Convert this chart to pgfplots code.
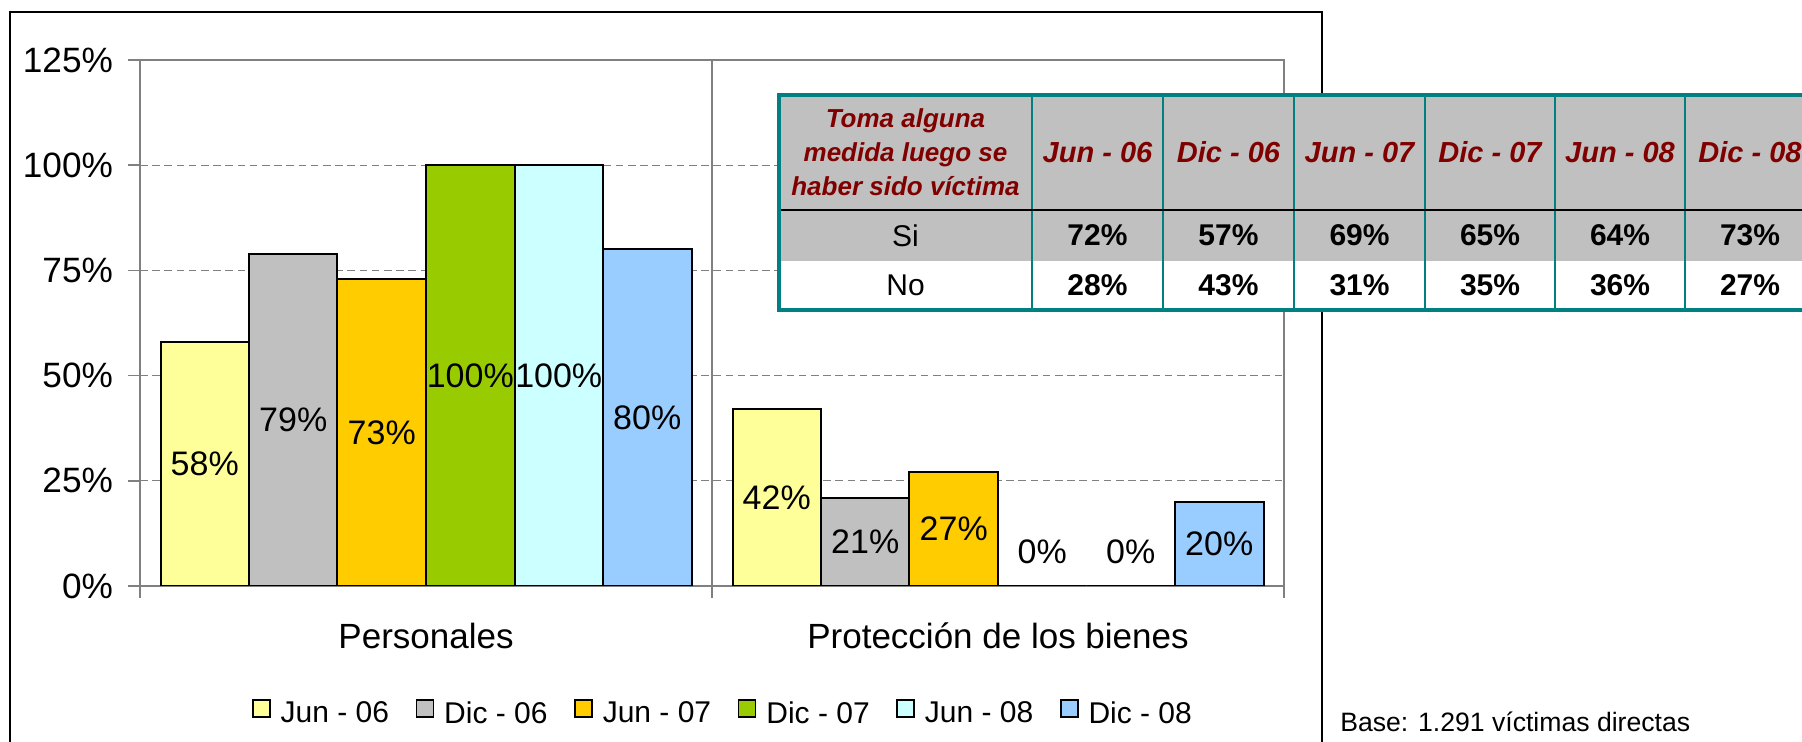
\documentclass[border=0pt]{standalone}
\usepackage{pgfplots}
\pgfplotsset{compat=1.18}
\usepackage{fontspec}
\setmainfont{Liberation Sans}
\definecolor{cA}{HTML}{FFFF99}
\definecolor{cB}{HTML}{C0C0C0}
\definecolor{cC}{HTML}{FFCC00}
\definecolor{cD}{HTML}{99CC00}
\definecolor{cE}{HTML}{CCFFFF}
\definecolor{cF}{HTML}{99CCFF}
\definecolor{tealb}{HTML}{008080}
\definecolor{dred}{HTML}{800000}
\definecolor{tgray}{HTML}{C0C0C0}
\definecolor{gridc}{HTML}{808080}
\pgfplotsset{
  mybar/.style={ybar, bar width=0.1547, draw=black, line width=1pt,
    legend image code/.code={\draw[##1, line width=0.8pt] (0pt,-1.5pt) rectangle (8.5pt,7pt);}}
}
\begin{document}
\begin{tikzpicture}[x=1pt,y=1pt]
\useasboundingbox (0,0) rectangle (901,371);
\fill[white] (0,0) rectangle (901,371);
\draw[black, line width=0.8pt] (5,-10) rectangle (661,365);
\begin{axis}[
  at={(70pt,78pt)}, anchor=south west,
  scale only axis, width=572pt, height=263pt,
  xmin=-0.5, xmax=1.5, ymin=0, ymax=125,
  /pgf/number format/assume math mode=true,
  axis line style={draw=gridc, line width=0.8pt},
  tick align=outside, major tick length=6pt,
  xtick pos=bottom, ytick pos=left,
  tick style={draw=gridc, line width=0.8pt},
  xtick={-0.5,0.5,1.5}, xticklabels={},
  extra x ticks={0,1},
  extra x tick labels={Personales, Protección de los bienes},
  extra x tick style={major tick length=0pt, grid=none,
     tick label style={font=\fontsize{17.5}{21}\selectfont, yshift=-15pt}},
  xmajorgrids, x grid style={draw=gridc, solid, line width=0.8pt},
  ytick={0,25,50,75,100,125},
  yticklabel={\pgfmathprintnumber{\tick}\%},
  y tick label style={font=\fontsize{17.6}{20}\selectfont, xshift=-4pt},
  ymajorgrids, y grid style={draw=gridc, dash pattern=on 3.8pt off 2.3pt, line width=0.6pt},
  legend columns=6,
  legend style={at={(0.5087,-0.2407)}, anchor=center, draw=none, fill=none,
    font=\fontsize{15}{18}\selectfont, nodes={inner sep=0pt},
    /tikz/every odd column/.append style={column sep=5pt},
    /tikz/every even column/.append style={column sep=13.3pt}},
]
\addplot[mybar, bar shift=-0.3868, fill=cA] coordinates {(0,58) (1,42)};
\addlegendentry{Jun - 06}
\addplot[mybar, bar shift=-0.2321, fill=cB] coordinates {(0,79) (1,21)};
\addlegendentry{Dic - 06}
\addplot[mybar, bar shift=-0.0774, fill=cC] coordinates {(0,73) (1,27)};
\addlegendentry{Jun - 07}
\addplot[mybar, bar shift=0.0774, fill=cD] coordinates {(0,100) (1,0)};
\addlegendentry{Dic - 07}
\addplot[mybar, bar shift=0.2321, fill=cE] coordinates {(0,100) (1,0)};
\addlegendentry{Jun - 08}
\addplot[mybar, bar shift=0.3868, fill=cF] coordinates {(0,80) (1,20)};
\addlegendentry{Dic - 08}
\addplot[forget plot, only marks, mark=none, nodes near coords, point meta=explicit symbolic,
  every node near coord/.append style={anchor=center, font=\fontsize{17}{20}\selectfont}]
  coordinates {
  (-0.3868,29) [58\%] (-0.2321,39.5) [79\%] (-0.0774,36.5) [73\%]
  (0.0774,50) [100\%] (0.2321,50) [100\%] (0.3868,40) [80\%]
  (0.6132,21) [42\%] (0.7679,10.5) [21\%] (0.9226,13.5) [27\%]
  (1.0774,8.2) [0\%] (1.2321,8.2) [0\%] (1.3868,10) [20\%]
  };
\end{axis}
% table
\fill[tgray] (389.5,266) rectangle (907.5,323.5);
\fill[tgray] (389.5,240.5) rectangle (907.5,266);
\fill[white] (389.5,216) rectangle (907.5,240.5);
\foreach \x in {516,581.5,647,712.5,777.5,842.5}
  \draw[tealb, line width=1pt] (\x,216) -- (\x,323.5);
\draw[black, line width=1.2pt] (389.5,266) -- (907.5,266);
\draw[tealb, line width=2pt] (389.5,216) rectangle (907.5,323.5);
\node[align=center, text=dred, font=\fontsize{13}{17}\selectfont\bfseries\itshape] at (452.75,294.75)
  {Toma alguna\\medida luego se\\haber sido víctima};
\foreach \x/\t in {548.75/Jun - 06, 614.25/Dic - 06, 679.75/Jun - 07, 745/Dic - 07, 810/Jun - 08, 875/Dic - 08}
  \node[text=dred, font=\fontsize{14.5}{17}\selectfont\bfseries\itshape] at (\x,294.75) {\t};
\node[font=\fontsize{15}{18}\selectfont] at (452.75,253.25) {Si};
\node[font=\fontsize{15}{18}\selectfont] at (452.75,228.25) {No};
\foreach \x/\t in {548.75/72, 614.25/57, 679.75/69, 745/65, 810/64, 875/73}
  \node[font=\fontsize{15}{18}\selectfont\bfseries] at (\x,253.25) {\t\%};
\foreach \x/\t in {548.75/28, 614.25/43, 679.75/31, 745/35, 810/36, 875/27}
  \node[font=\fontsize{15}{18}\selectfont\bfseries] at (\x,228.25) {\t\%};
\node[anchor=west, font=\fontsize{13.3}{16}\selectfont] at (666.6,10.2) {Base: 1.291 víctimas directas};
\end{tikzpicture}
\end{document}
